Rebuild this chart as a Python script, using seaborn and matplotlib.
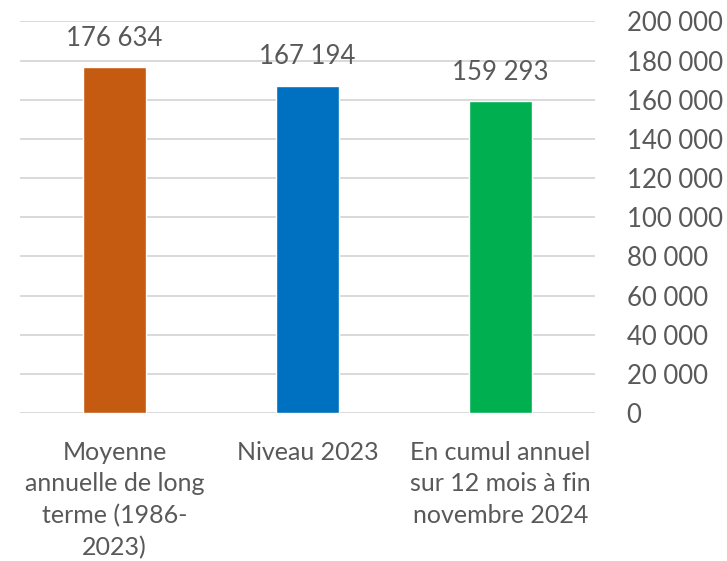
import numpy as np
import pandas as pd
import matplotlib
matplotlib.use("Agg")
import matplotlib.pyplot as plt
import seaborn as sns

categories = ["Moyenne\nannuelle de long\nterme (1986-\n2023)",
              "Niveau 2023",
              "En cumul annuel\nsur 12 mois à fin\nnovembre 2024"]
values = [176634, 167194, 159293]
colors = ["#C55A11", "#0070C0", "#00B050"]
y_ticks = list(range(0, 200001, 20000))

TXT = "#595959"


def fmt(v):
    return f"{v:,}".replace(",", " ")


sns.set_theme(style="white")
plt.rcParams['font.family'] = ['Lato', 'DejaVu Sans']

df = pd.DataFrame({"cat": categories, "val": values})

fig = plt.figure(figsize=(7.27, 5.61), dpi=100)
ax = fig.add_axes([0.0275, 0.2638, 0.7905, 0.6979])

sns.barplot(data=df, x="cat", y="val", hue="cat", palette=colors,
            dodge=False, legend=False, width=0.326, saturation=1, ax=ax)

ax.set_xlim(-0.49, 2.49)
ax.set_ylim(0, 200000)
ax.set_yticks(y_ticks)
ax.set_yticklabels([fmt(t) for t in y_ticks])
ax.yaxis.tick_right()
ax.grid(axis="y", color="#D9D9D9", linewidth=1.4)
ax.set_axisbelow(True)
for s in ax.spines.values():
    s.set_visible(False)
ax.tick_params(axis="y", length=0, pad=23, labelsize=18.5, labelcolor=TXT)
ax.tick_params(axis="x", length=0, pad=20, labelsize=18, labelcolor=TXT)
for lab in ax.get_xticklabels():
    lab.set_linespacing(1.45)
ax.set_xlabel("")
ax.set_ylabel("")

for i, v in enumerate(values):
    ax.annotate(fmt(v), (i, v), xytext=(0, 12), textcoords="offset points",
                ha="center", va="bottom", fontsize=18.5, color=TXT)

fig.savefig("out.png", dpi=100)
